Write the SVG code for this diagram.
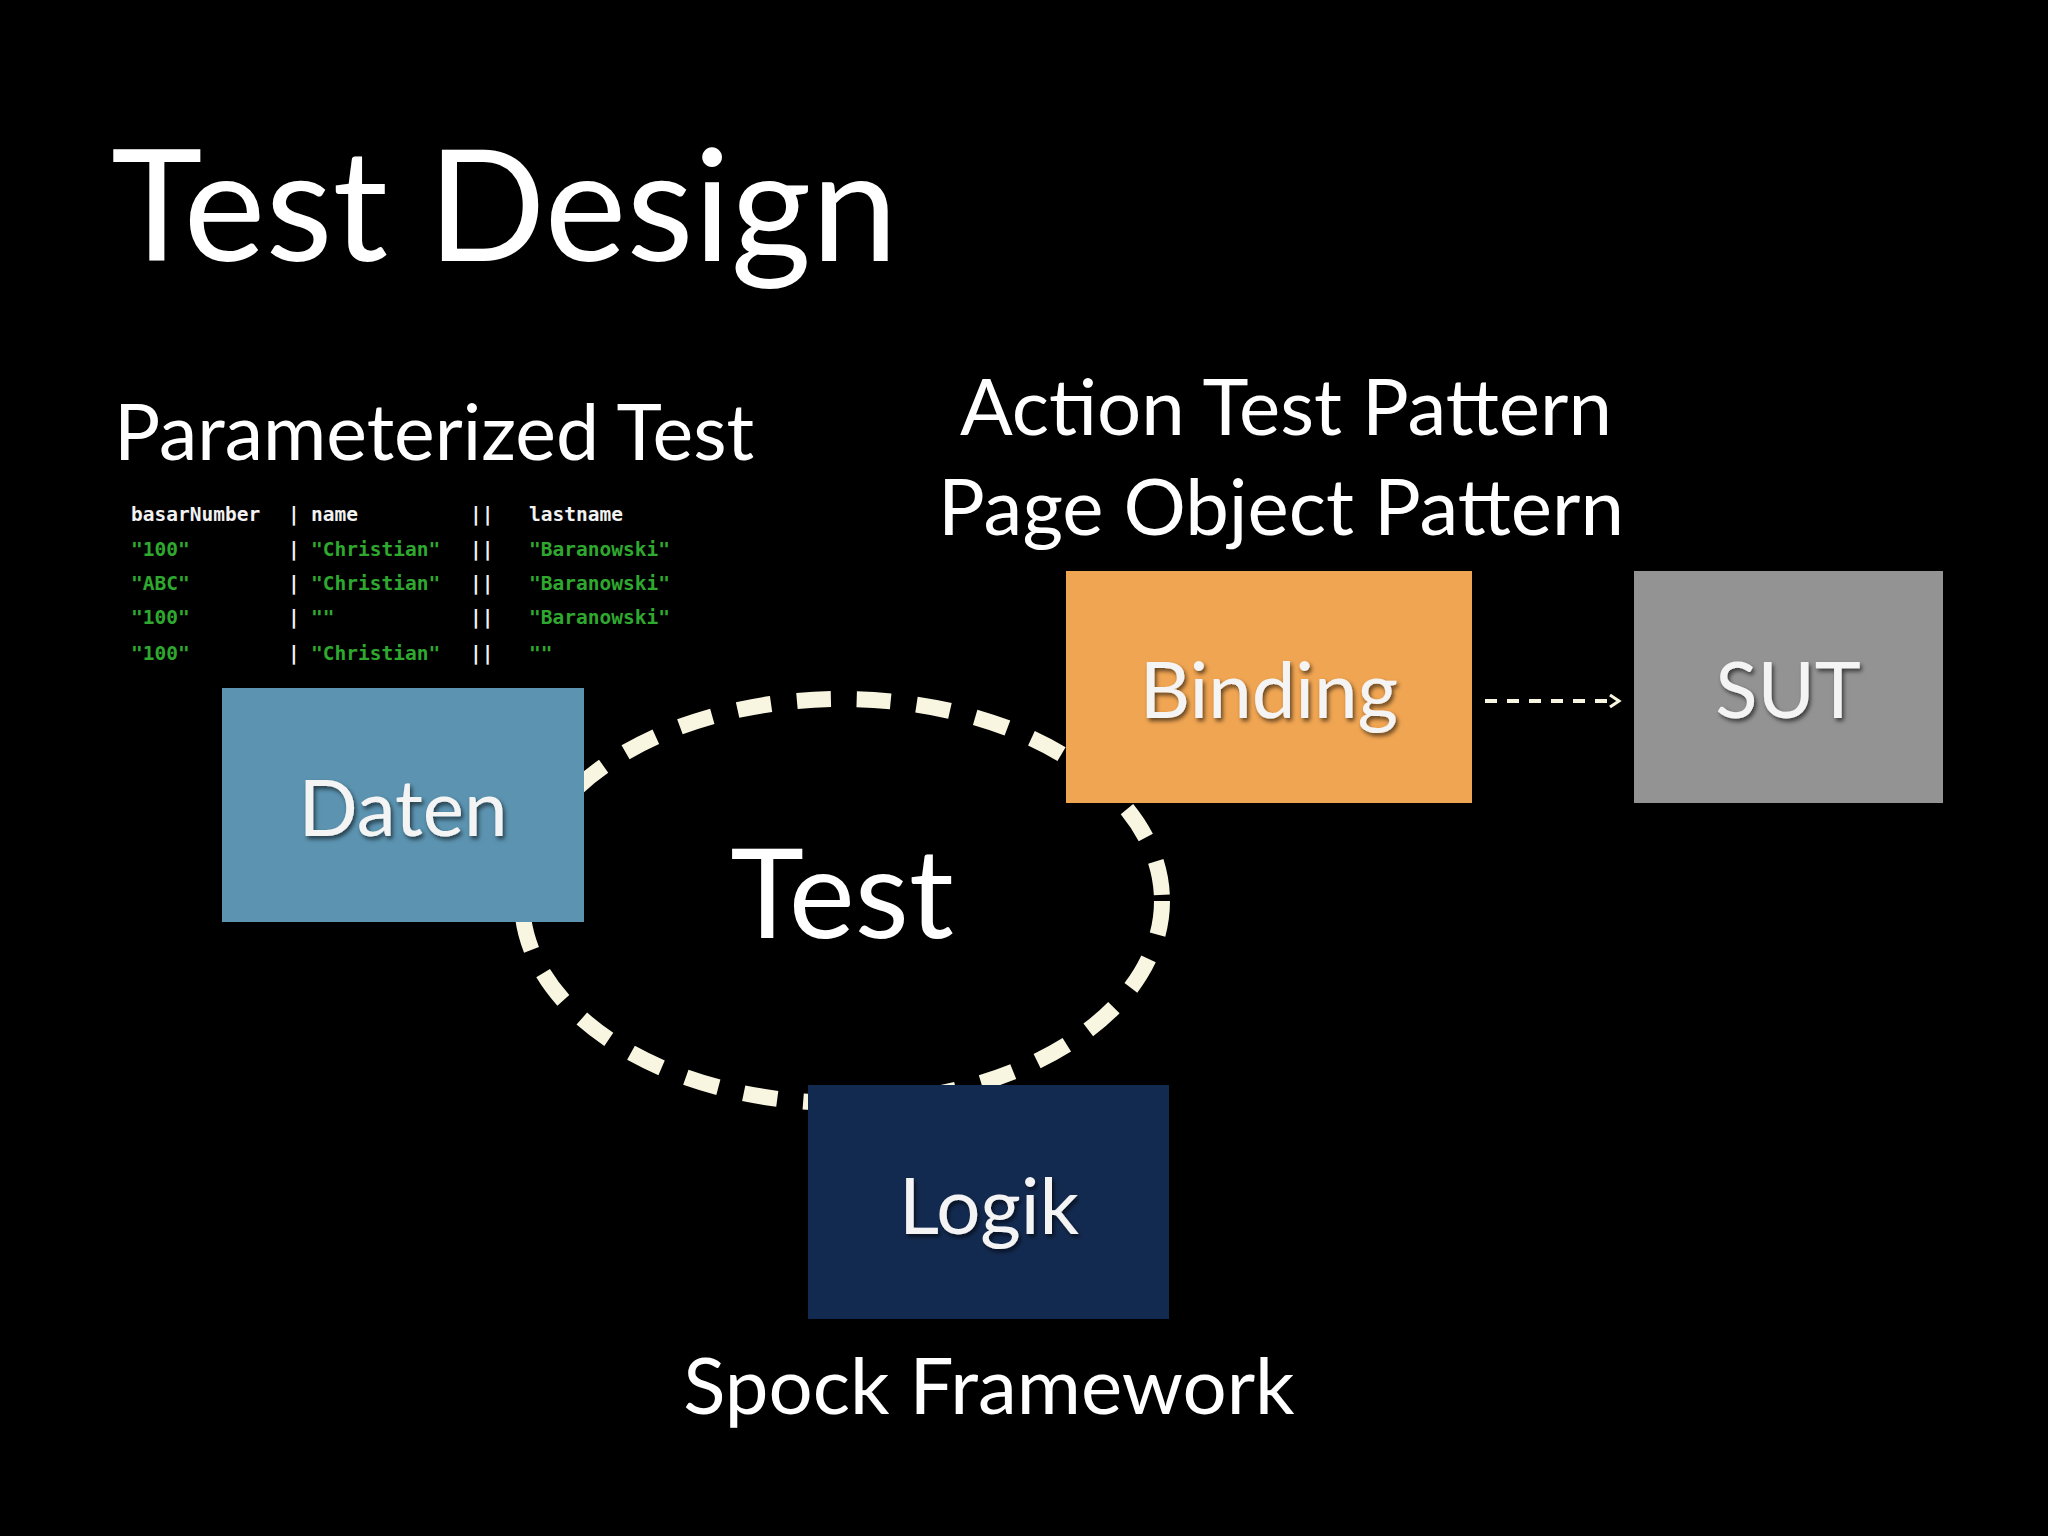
<svg xmlns="http://www.w3.org/2000/svg" width="2048" height="1536" viewBox="0 0 2048 1536">
<style>
.t{font-family:"Lato","Open Sans","Liberation Sans",sans-serif;fill:#fff}
.lb{font-family:"Lato","Open Sans","Liberation Sans",sans-serif;fill:#f4f4f4;font-size:78px;text-anchor:middle;filter:url(#sh)}
.m{font-family:"DejaVu Sans Mono","Liberation Mono",monospace;font-size:19.5px;font-weight:bold}
.w{fill:#f2f2f2}.g{fill:#2fa82f}
</style>
<defs>
<filter id="sh"><feDropShadow dx="2" dy="3" stdDeviation="2" flood-color="#000" flood-opacity="0.6"/></filter>
<marker id="ah" markerWidth="14" markerHeight="14" refX="11" refY="7" orient="auto" markerUnits="userSpaceOnUse"><path d="M2,1 L11,7 L2,13" fill="none" stroke="#f8f6e0" stroke-width="3"/></marker>
</defs>
<rect width="2048" height="1536" fill="#000"/>
<text class="t" x="111" y="261" font-size="155">Test Design</text>
<text class="t" x="114" y="460" font-size="77">Parameterized Test</text>
<text class="t" x="1286" y="435" font-size="78" text-anchor="middle">Action Test Pattern</text>
<text class="t" x="1281" y="535" font-size="78" text-anchor="middle">Page Object Pattern</text>
<g id="table" class="m">
<text class="w" x="131" y="521">basarNumber</text><text class="w" x="288" y="521">|</text><text class="w" x="311" y="521">name</text><text class="w" x="470" y="521">||</text><text class="w" x="529" y="521">lastname</text>
<text class="g" x="131" y="556">"100"</text><text class="w" x="288" y="556">|</text><text class="g" x="311" y="556">"Christian"</text><text class="w" x="470" y="556">||</text><text class="g" x="529" y="556">"Baranowski"</text>
<text class="g" x="131" y="590">"ABC"</text><text class="w" x="288" y="590">|</text><text class="g" x="311" y="590">"Christian"</text><text class="w" x="470" y="590">||</text><text class="g" x="529" y="590">"Baranowski"</text>
<text class="g" x="131" y="624">"100"</text><text class="w" x="288" y="624">|</text><text class="g" x="311" y="624">""</text><text class="w" x="470" y="624">||</text><text class="g" x="529" y="624">"Baranowski"</text>
<text class="g" x="131" y="660">"100"</text><text class="w" x="288" y="660">|</text><text class="g" x="311" y="660">"Christian"</text><text class="w" x="470" y="660">||</text><text class="g" x="529" y="660">""</text>
</g>
<g id="connectors">
<ellipse cx="842" cy="901" rx="320" ry="202" fill="none" stroke="#f8f6e0" stroke-width="16" stroke-dasharray="34 26"/>
<line x1="1485" y1="701" x2="1619" y2="701" stroke="#f8f6e0" stroke-width="4" stroke-dasharray="12 10" marker-end="url(#ah)"/>
</g>
<g id="test"><text class="t" x="842" y="938" font-size="125" text-anchor="middle">Test</text></g>
<g id="daten"><rect x="222" y="688" width="362" height="234" fill="#5b93b0"/><text class="lb" x="403" y="836">Daten</text></g>
<g id="binding"><rect x="1066" y="571" width="406" height="232" fill="#f0a552"/><text class="lb" x="1269" y="718">Binding</text></g>
<g id="sut"><rect x="1634" y="571" width="309" height="232" fill="#939393"/><text class="lb" x="1788" y="718">SUT</text></g>
<g id="logik"><rect x="808" y="1085" width="361" height="234" fill="#132a50"/><text class="lb" x="989" y="1234">Logik</text></g>
<text class="t" x="989" y="1414" font-size="78" text-anchor="middle">Spock Framework</text>
</svg>
